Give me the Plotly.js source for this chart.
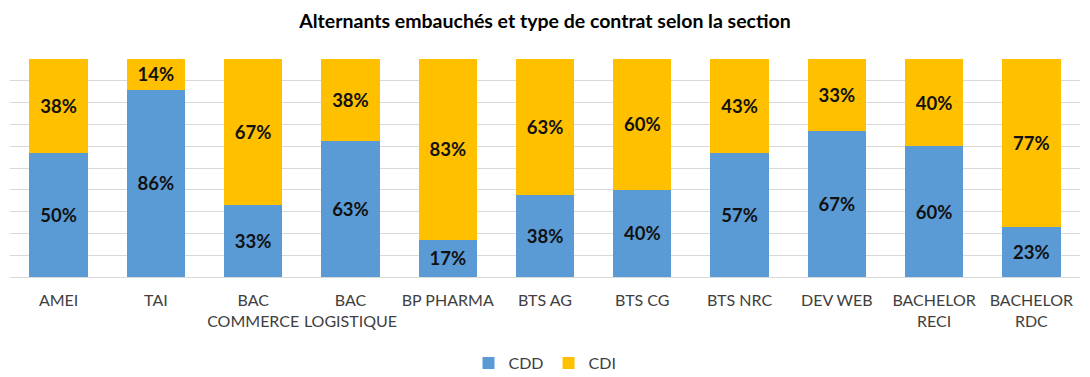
<!DOCTYPE html>
<html>
<head>
<meta charset="utf-8">
<script src="https://cdn.plot.ly/plotly-3.0.1.min.js"></script>
<style>html,body{margin:0;padding:0;background:#fff;}#chart{width:1090px;height:377px;}</style>
</head>
<body>
<div id="chart"></div>
<script>
var categories = ["AMEI", "TAI", "BAC<br>COMMERCE", "BAC<br>LOGISTIQUE", "BP PHARMA", "BTS AG", "BTS CG", "BTS NRC", "DEV WEB", "BACHELOR<br>RECI", "BACHELOR<br>RDC"];
var cdd = [50, 86, 33, 63, 17, 38, 40, 57, 67, 60, 23];
var cdi = [38, 14, 67, 38, 83, 63, 60, 43, 33, 40, 77];

var FONT = "Lato, 'Open Sans', sans-serif";
function pct(a){ return a.map(function(v){ return v + "%"; }); }

var traces = [
  {type: "bar", name: "CDD", x: categories, y: cdd, text: pct(cdd),
   marker: {color: "#5B9BD5"}, textposition: "inside", insidetextanchor: "middle",
   textangle: 0, hoverinfo: "skip", texttemplate: "%{text}",
   textfont: {family: FONT, size: 18.5, color: "#111", weight: "bold"}},
  {type: "bar", name: "CDI", x: categories, y: cdi, text: pct(cdi),
   marker: {color: "#FFC000"}, textposition: "inside", insidetextanchor: "middle",
   textangle: 0, hoverinfo: "skip", texttemplate: "%{text}",
   textfont: {family: FONT, size: 18.5, color: "#111", weight: "bold"}}
];

var layout = {
  width: 1090, height: 377,
  margin: {l: 10, r: 10, t: 59, b: 100, autoexpand: false},
  paper_bgcolor: "#fff", plot_bgcolor: "#fff",
  barmode: "stack", barnorm: "percent", bargap: 0.4,
  title: {text: "Alternants embauchés et type de contrat selon la section",
          font: {family: FONT, size: 19.5, color: "#000", weight: "bold"},
          x: 0.5, xanchor: "center", y: 0.945, yanchor: "middle", yref: "container"},
  xaxis: {type: "category", tickfont: {family: FONT, size: 16, color: "#404040"},
          tickangle: 0, showgrid: false, showline: false, ticks: "", fixedrange: true,
          automargin: false, ticklabelstandoff: 12},
  yaxis: {range: [0, 100], dtick: 10, showticklabels: false, showgrid: true,
          gridcolor: "#d9d9d9", gridwidth: 1, zeroline: true, zerolinecolor: "#d9d9d9",
          showline: false, ticks: "", fixedrange: true, automargin: false},
  showlegend: true,
  legend: {orientation: "h", x: 0.5, xanchor: "center", xref: "container",
           y: 0.037, yanchor: "middle", yref: "container",
           font: {family: FONT, size: 16, color: "#404040"}, traceorder: "normal",
           itemwidth: 30}
};

Plotly.newPlot("chart", traces, layout, {displayModeBar: false, staticPlot: true});
</script>
</body>
</html>
